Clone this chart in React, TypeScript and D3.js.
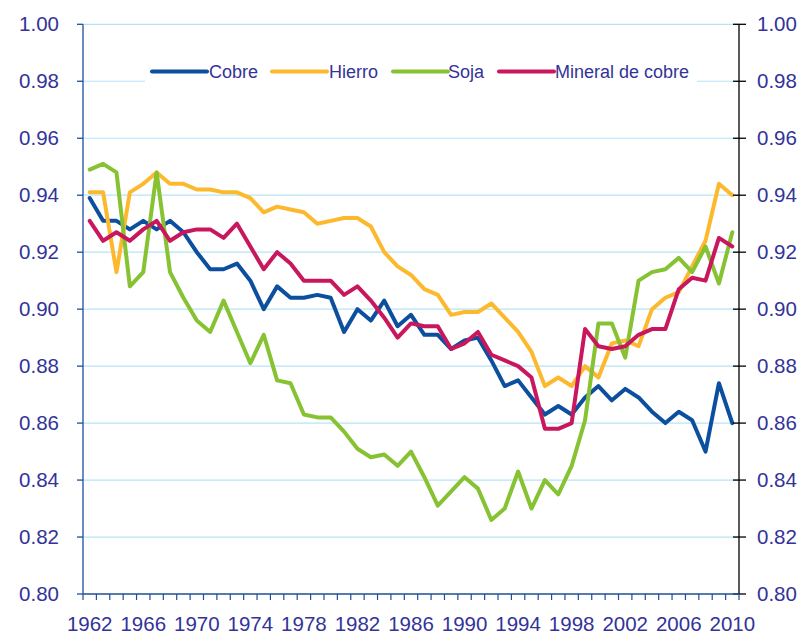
import React from "react";
import * as d3 from "d3";

const years: number[] = d3.range(1962, 2011);

const cobre = [
  0.939, 0.931, 0.931, 0.928, 0.931, 0.928, 0.931, 0.927, 0.920, 0.914,
  0.914, 0.916, 0.910, 0.900, 0.908, 0.904, 0.904, 0.905, 0.904, 0.892,
  0.900, 0.896, 0.903, 0.894, 0.898, 0.891, 0.891, 0.886, 0.889, 0.890,
  0.882, 0.873, 0.875, 0.869, 0.863, 0.866, 0.863, 0.869, 0.873, 0.868,
  0.872, 0.869, 0.864, 0.860, 0.864, 0.861, 0.850, 0.874, 0.860,
];

const hierro = [
  0.941, 0.941, 0.913, 0.941, 0.944, 0.948, 0.944, 0.944, 0.942, 0.942,
  0.941, 0.941, 0.939, 0.934, 0.936, 0.935, 0.934, 0.930, 0.931, 0.932,
  0.932, 0.929, 0.920, 0.915, 0.912, 0.907, 0.905, 0.898, 0.899, 0.899,
  0.902, 0.897, 0.892, 0.885, 0.873, 0.876, 0.873, 0.880, 0.876, 0.888,
  0.889, 0.887, 0.900, 0.904, 0.906, 0.915, 0.924, 0.944, 0.940,
];

const soja = [
  0.949, 0.951, 0.948, 0.908, 0.913, 0.948, 0.913, 0.904, 0.896, 0.892,
  0.903, 0.892, 0.881, 0.891, 0.875, 0.874, 0.863, 0.862, 0.862, 0.857,
  0.851, 0.848, 0.849, 0.845, 0.850, 0.841, 0.831, 0.836, 0.841, 0.837,
  0.826, 0.830, 0.843, 0.830, 0.840, 0.835, 0.845, 0.861, 0.895, 0.895,
  0.883, 0.910, 0.913, 0.914, 0.918, 0.913, 0.922, 0.909, 0.927,
];

const mineral = [
  0.931, 0.924, 0.927, 0.924, 0.928, 0.931, 0.924, 0.927, 0.928, 0.928,
  0.925, 0.930, 0.922, 0.914, 0.920, 0.916, 0.910, 0.910, 0.910, 0.905,
  0.908, 0.903, 0.897, 0.890, 0.895, 0.894, 0.894, 0.886, 0.888, 0.892,
  0.884, 0.882, 0.880, 0.876, 0.858, 0.858, 0.860, 0.893, 0.887, 0.886,
  0.887, 0.891, 0.893, 0.893, 0.907, 0.911, 0.910, 0.925, 0.922,
];

const seriesNames = ["Cobre", "Hierro", "Soja", "Mineral de cobre"];
const seriesColors = ["#0b4f9e", "#fdb92e", "#86c232", "#c8175d"];
const seriesValues = [cobre, hierro, soja, mineral];

const yTicks = [0.8, 0.82, 0.84, 0.86, 0.88, 0.9, 0.92, 0.94, 0.96, 0.98, 1.0];
const xTickLabels = d3.range(1962, 2011, 4);

const W = 800;
const H = 634;
const left = 83;
const right = 739;
const top = 24.3;
const bottom = 594;

const textColor = "#333399";
const font = "'Liberation Sans', Arial, sans-serif";

export default function App() {
  const x = d3.scaleBand<number>().domain(years).range([left, right]).padding(0);
  const y = d3.scaleLinear().domain([0.8, 1.0]).range([bottom, top]);
  const cx = (yr: number) => (x(yr) as number) + x.bandwidth() / 2;

  const line = d3
    .line<number>()
    .x((_, i) => cx(years[i]))
    .y((v) => y(v));

  const legendItems = [
    { lx: 152, tx: 209 },
    { lx: 272, tx: 329 },
    { lx: 393, tx: 448 },
    { lx: 499, tx: 555 },
  ];
  const legendY = 71.5;

  const boundaries = d3.range(0, years.length + 1).map((i) => left + i * x.bandwidth());

  return (
    <svg
      width={W}
      height={H}
      style={{ position: "absolute", left: 0, top: 0, background: "#fff" }}
      fontFamily={font}
    >
      <rect x={0} y={0} width={W} height={H} fill="#fff" />
      {yTicks.slice(1).map((t) => (
        <line key={"g" + t} x1={left} x2={right} y1={y(t)} y2={y(t)} stroke="#b5e4f6" strokeWidth={1.2} />
      ))}
      <rect x={145} y={58} width={552} height={30} fill="#fff" />
      {seriesValues.map((vals, si) => (
        <path
          key={seriesNames[si]}
          d={line(vals) as string}
          fill="none"
          stroke={seriesColors[si]}
          strokeWidth={4}
          strokeLinejoin="round"
          strokeLinecap="round"
        />
      ))}
      <line x1={left} x2={left} y1={top} y2={bottom} stroke="#1f4e9c" strokeWidth={1.3} />
      {yTicks.map((t) => (
        <g key={"l" + t}>
          <line x1={left - 6} x2={left} y1={y(t)} y2={y(t)} stroke="#1f4e9c" strokeWidth={1.3} />
          <text x={59} y={y(t)} dy="0.35em" textAnchor="end" fontSize={20.5} fill={textColor}>
            {t.toFixed(2)}
          </text>
        </g>
      ))}
      <line x1={right} x2={right} y1={top} y2={bottom} stroke="#000" strokeWidth={1.3} />
      {yTicks.map((t) => (
        <g key={"r" + t}>
          <line x1={right - 6} x2={right + 7} y1={y(t)} y2={y(t)} stroke="#000" strokeWidth={1.3} />
          <text x={757} y={y(t)} dy="0.35em" textAnchor="start" fontSize={20.5} fill={textColor}>
            {t.toFixed(2)}
          </text>
        </g>
      ))}
      <line x1={left} x2={right} y1={bottom} y2={bottom} stroke="#1f4e9c" strokeWidth={1.3} />
      {boundaries.map((bx, i) => (
        <line key={"xt" + i} x1={bx} x2={bx} y1={bottom} y2={bottom + 6} stroke="#1f4e9c" strokeWidth={1.2} />
      ))}
      {xTickLabels.map((yr) => (
        <text key={"xl" + yr} x={cx(yr)} y={631} textAnchor="middle" fontSize={20.5} fill={textColor}>
          {yr}
        </text>
      ))}
      {seriesNames.map((name, i) => (
        <g key={"lg" + name}>
          <line
            x1={legendItems[i].lx}
            x2={legendItems[i].lx + 55}
            y1={legendY}
            y2={legendY}
            stroke={seriesColors[i]}
            strokeWidth={4}
            strokeLinecap="round"
          />
          <text x={legendItems[i].tx} y={legendY} dy="0.36em" fontSize={18} fill={textColor}>
            {name}
          </text>
        </g>
      ))}
    </svg>
  );
}
